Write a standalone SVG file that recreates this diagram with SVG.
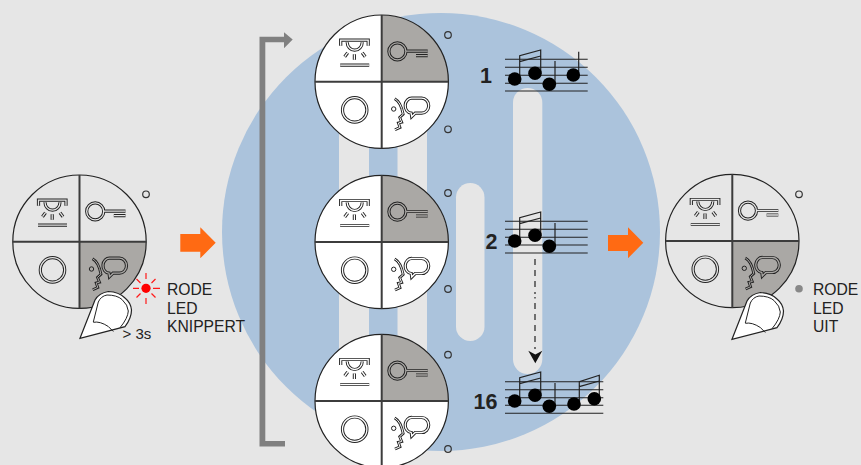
<svg xmlns="http://www.w3.org/2000/svg" width="861" height="465" viewBox="0 0 861 465">
<style>
.o{fill:none;stroke:#222;stroke-width:3.200;stroke-linejoin:miter}
.i{fill:none;stroke:currentColor;stroke-width:1.300;stroke-linejoin:miter}
.ring{stroke:#222;stroke-width:1.200}
.cross{stroke:#3c3c3c;stroke-width:2}
.grey{fill:#aaa8a5}
.dot{fill:none;stroke:#333;stroke-width:1.200}
.t{font-family:"Liberation Sans",Arial,sans-serif;font-size:15.700px;fill:#222}
.n{font-family:"Liberation Sans",Arial,sans-serif;font-size:21.500px;font-weight:bold;fill:#222}
.staff{stroke:#222;stroke-width:1.100}
.stem{stroke:#222;stroke-width:1.200;fill:none}
.led{stroke:#ff1a1a;stroke-width:1.200}
.L{color:#e6e6e6}.W{color:#fff}.G{color:#aaa8a5}
</style>
<defs>
<path id="lamp-p" d="M-41,-36V-41.500H-13.500V-36M-34.500,-39.500A7.500,8 0 0 0 -19.500,-39.500M-41.500,-16.500H-12.500M-37,-25L-34,-29M-27.300,-22V-27.500M-16.500,-25L-19.500,-29"/>
<g id="lamp"><use href="#lamp-p" class="o"/><use href="#lamp-p" class="i"/></g>
<path id="key-p" d="M15.700,-38.800A8.500,8.500 0 1 0 15.700,-21.800A8.500,8.500 0 1 0 15.700,-38.800ZM24.500,-30.500H46M34.300,-26H46"/>
<g id="key"><use href="#key-p" class="o"/><use href="#key-p" class="i"/></g>
<path id="ring-p" d="M-27,16A12.200,12.200 0 1 0 -27,40.400A12.200,12.200 0 1 0 -27,16Z"/>
<g id="ring"><use href="#ring-p" class="o"/><use href="#ring-p" class="i"/></g>
<path id="talk-p" d="M30.500,16.500H40A7,7.500 0 0 1 40,31.500H33.500L30,35L29.500,31.500A6.500,7.500 0 0 1 30.500,16.500Z"/>
<path id="fig-p" d="M13,17Q19,20 21.500,32.500L18,35.700L20,40.500L16.700,41.300L18.300,45.700L13.300,48"/>
<g id="talk"><use href="#talk-p" class="o"/><use href="#talk-p" class="i"/><use href="#fig-p" class="o" style="stroke-width:2.800"/><use href="#fig-p" class="i" style="stroke-width:1"/><circle cx="12" cy="27.300" r="2.200" fill="none" stroke="#222" stroke-width="1"/></g>
<path id="qKey" d="M0,0V-66.700A66.700,66.700 0 0 1 66.700,0Z"/>
<path id="qTalk" d="M0,0H66.700A66.700,66.700 0 0 1 0,66.700Z"/>
<g id="cross"><path class="cross" d="M0,-66.700V66.700M-66.700,0H66.700"/></g>
<g id="finger">
<path d="M80,338.300L95,300Q99,293 108.300,291.500Q119,292 125,298Q131,303 131.500,310Q131.500,318 125,326.700Z" fill="#fff" stroke="#222" stroke-width="1.200"/>
<path d="M93.300,322L98.300,302Q101,296 107,295Q117,295 122,299.500Q128,305 128.300,311Q128,318 120,327.700" fill="none" stroke="#222" stroke-width="1"/>
<path d="M93.300,322.300Q100,321 108.300,326.500L113.300,331.500" fill="none" stroke="#222" stroke-width="1"/>
</g>
<g id="notes">
<path class="stem" d="M519.700,79V55.700L540.700,50V73M519.700,61.700L540.700,56M555,84V61"/>
<circle cx="514.700" cy="79" r="6.800"/><circle cx="535" cy="73.300" r="6.800"/><circle cx="549.300" cy="84.300" r="6.800"/>
</g>
</defs>
<rect width="861" height="465" fill="#e6e6e6"/>
<circle cx="441" cy="232" r="219" fill="#abc3dc"/>
<g fill="#e6e6e6">
<rect x="339" y="100" width="30" height="280"/>
<rect x="397.500" y="100" width="29.500" height="280"/>
<rect x="456" y="183" width="28.500" height="158" rx="14.250"/>
<rect x="513" y="88" width="29.300" height="286" rx="14.650"/>
</g>
<g id="connectors">
<path d="M259.500,446.500V36.700H284V32.300L292.700,39.500L284,48.300V42.300H265.300V441H285V446.500Z" fill="#808080"/>
<path d="M180.300,234H200.300V227.300L215.700,242.800L200.300,258.300V251.700H180.300Z" fill="#ff6a13"/>
<path d="M608,235H628V227.300L643.300,242.800L628,258.300V251H608Z" fill="#ff6a13"/>
<path d="M535,259V294M535,303V349" fill="none" stroke="#222" stroke-width="1.200" stroke-dasharray="6 5"/>
<path d="M535,297V298.500" fill="none" stroke="#222" stroke-width="1.200"/>
<path d="M528.300,350.700L535.300,354.500L542.300,350.700L535.300,363.300Z" fill="#111"/>
</g>
<g id="node-left" transform="translate(79.500,241.700)">
<circle r="66.700" fill="#e6e6e6"/><use href="#qTalk" class="grey"/><circle r="66.700" fill="none" class="ring"/><use href="#cross"/>
<use href="#lamp" class="L"/><use href="#key" class="L"/><use href="#ring" class="L"/><use href="#talk" class="G"/>
</g>
<g id="finger-left"><use href="#finger"/></g>
<g id="led-red">
<circle cx="146" cy="288.300" r="4.600" fill="#f00"/>
<path class="led" d="M146,273V279M146,298V304M133,288.300H139M153,288.300H160M136.500,279L140.500,283M155.500,279L151.500,283M136.500,297.500L140.500,293.500M155.500,297.500L151.500,293.500"/>
</g>
<circle cx="146" cy="194.300" r="3.300" class="dot"/>
<g id="label-blink" class="t"><text x="167" y="295">RODE</text><text x="167" y="313.500">LED</text><text x="167" y="332">KNIPPERT</text></g>
<text x="122.500" y="339" class="t" style="font-size:15px">&gt; 3s</text>
<g id="node-top" transform="translate(381.700,81.700)">
<circle r="66.700" fill="#fff"/><use href="#qKey" class="grey"/><circle r="66.700" fill="none" class="ring"/><use href="#cross"/>
<use href="#lamp" class="W"/><use href="#key" class="G"/><use href="#ring" class="W"/><use href="#talk" class="W"/>
</g>
<g id="node-mid" transform="translate(381.700,242)">
<circle r="66.700" fill="#fff"/><use href="#qKey" class="grey"/><circle r="66.700" fill="none" class="ring"/><use href="#cross"/>
<use href="#lamp" class="W"/><use href="#key" class="G"/><use href="#ring" class="W"/><use href="#talk" class="W"/>
</g>
<g id="node-bottom" transform="translate(381.700,401)">
<circle r="66.700" fill="#fff"/><use href="#qKey" class="grey"/><circle r="66.700" fill="none" class="ring"/><use href="#cross"/>
<use href="#lamp" class="W"/><use href="#key" class="G"/><use href="#ring" class="W"/><use href="#talk" class="W"/>
</g>
<g>
<circle cx="448" cy="35" r="3.300" class="dot"/><circle cx="448" cy="129.300" r="3.300" class="dot"/>
<circle cx="448" cy="193" r="3.300" class="dot"/><circle cx="448" cy="289" r="3.300" class="dot"/>
<circle cx="448" cy="354.700" r="3.300" class="dot"/><circle cx="448" cy="449" r="3.300" class="dot"/>
</g>
<g id="staff-1">
<path class="staff" d="M505,59.300H587.700M505,67.300H587.700M505,75.300H587.700M505,83.300H587.700M505,91H587.700"/>
<use href="#notes"/><path class="stem" d="M578.700,75V51.700"/><circle cx="573.300" cy="75" r="6.800"/>
<text x="480" y="82.700" class="n">1</text>
</g>
<g id="staff-2">
<path class="staff" d="M505,221.300H587.700M505,229.300H587.700M505,237.300H587.700M505,245H587.700M505,253H587.700"/>
<use href="#notes" y="162"/>
<text x="485.500" y="248.700" class="n">2</text>
</g>
<g id="staff-16">
<path class="staff" d="M505,381.700H603.300M505,389.700H603.300M505,397.700H603.300M505,405.300H603.300M505,413.300H603.300"/>
<use href="#notes" y="322"/>
<path class="stem" d="M579.300,404V381.700L599.300,375.300V398.700M579.300,386.700L599.300,381"/>
<circle cx="574" cy="404" r="6.800"/><circle cx="594.300" cy="398.700" r="6.800"/>
<text x="473.500" y="408.700" class="n">16</text>
</g>
<g id="node-right" transform="translate(732.300,241)">
<circle r="66.700" fill="#e6e6e6"/><use href="#qTalk" class="grey"/><circle r="66.700" fill="none" class="ring"/><use href="#cross"/>
<use href="#lamp" class="L"/><use href="#key" class="L"/><use href="#ring" class="L"/><use href="#talk" class="G"/>
</g>
<g id="finger-right"><use href="#finger" x="652" y="1"/></g>
<circle cx="799" cy="194.300" r="3.300" class="dot"/>
<circle id="led-grey" cx="799" cy="288.700" r="3.800" fill="#888"/>
<g id="label-off" class="t"><text x="813" y="295">RODE</text><text x="813" y="313.500">LED</text><text x="813" y="332">UIT</text></g>
</svg>
